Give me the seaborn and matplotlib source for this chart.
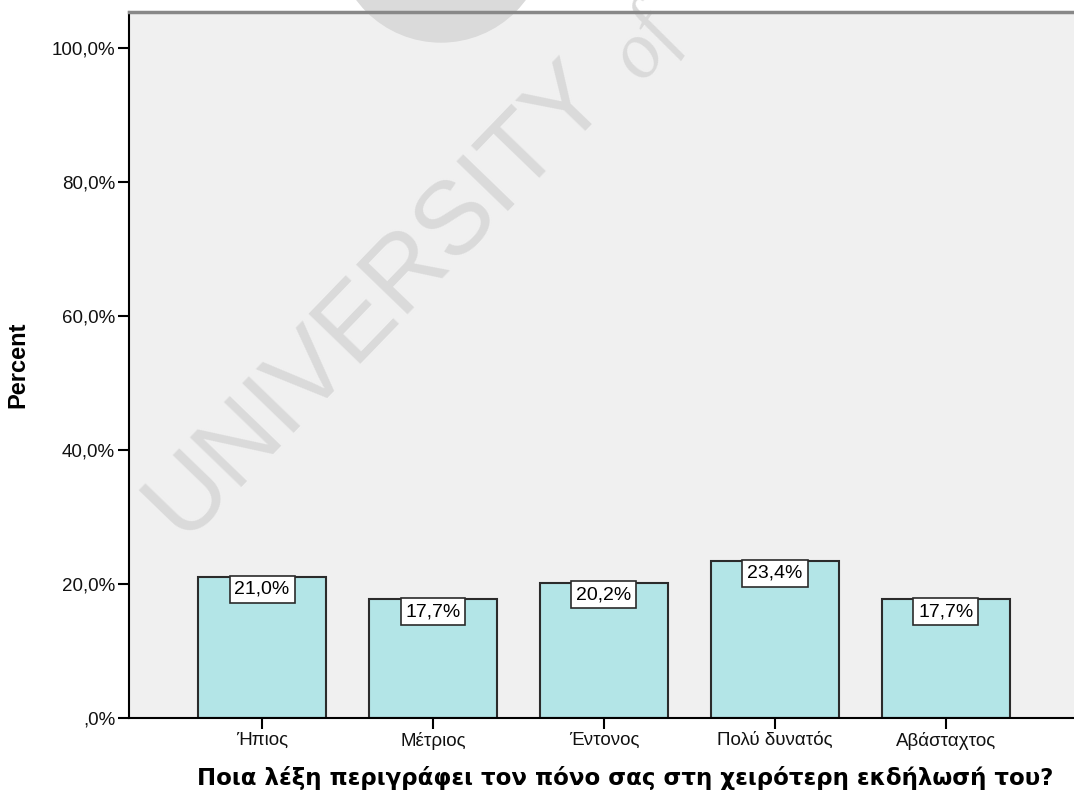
import matplotlib
matplotlib.use("Agg")
import matplotlib.pyplot as plt
import seaborn as sns
import pandas as pd
from matplotlib.patches import Circle
from matplotlib.transforms import IdentityTransform
from matplotlib.ticker import FuncFormatter

# values
categories = ['Ήπιος', 'Μέτριος', 'Έντονος', 'Πολύ δυνατός', 'Αβάσταχτος']
percent = [21.0, 17.7, 20.2, 23.4, 17.7]
y_ticks = [0, 20, 40, 60, 80, 100]

df = pd.DataFrame({'answer': categories, 'percent': percent})

sns.set_style("white")
plt.rcParams['font.family'] = ['Liberation Sans', 'DejaVu Sans']

fig = plt.figure(figsize=(10.74, 7.91), dpi=100)
ax = fig.add_axes([129 / 1074, 73 / 791, 1 - 129 / 1074, 706 / 791])
ax.set_facecolor('#F0F0F0')

sns.barplot(data=df, x='answer', y='percent', color='#B3E5E7', saturation=1,
            width=0.75, edgecolor='#2b2b2b', linewidth=1.5, ax=ax, zorder=2)

# bar value labels in white boxes at the top of each bar
for i, v in enumerate(percent):
    ax.text(i, v - 0.55, f"{v:.1f}%".replace('.', ','), ha='center', va='top',
            fontsize=14, color='black', zorder=4,
            bbox=dict(boxstyle='square,pad=0.25', fc='white', ec='#2b2b2b', lw=1.2))

# faint watermark (pixel positions, figure is saved at 100 dpi)
wm = '#DADADA'
ax.text(378, 791 - 300, 'UNIVERSITY', transform=IdentityTransform(), rotation=46,
        rotation_mode='anchor', ha='center', va='center', fontsize=74, color=wm,
        zorder=1, clip_on=False)
ax.text(645, 791 - 45, 'of', transform=IdentityTransform(), rotation=55,
        rotation_mode='anchor', family='Liberation Serif', style='italic',
        ha='center', va='center', fontsize=58, color=wm, zorder=1, clip_on=False)
ax.add_patch(Circle((441, 791 + 63), 105, transform=IdentityTransform(), color=wm,
                    zorder=1, clip_on=False))

ax.set_xlim(-0.778, 4.749)
ax.set_ylim(0, 105.3)
ax.set_yticks(y_ticks)
ax.yaxis.set_major_formatter(FuncFormatter(lambda v, p: ',0%' if v == 0 else f"{v:.1f}%".replace('.', ',')))

ax.tick_params(axis='both', direction='out', length=8, width=1.5, color='black',
               labelsize=13.5, labelcolor='#111111', left=True, bottom=True, pad=2)

ax.set_xlabel('Ποια λέξη περιγράφει τον πόνο σας στη χειρότερη εκδήλωσή του?',
              fontsize=16.5, fontweight='bold', family='DejaVu Sans', color='black')
ax.xaxis.set_label_coords(0.525, -0.068)
ax.set_ylabel('Percent', fontsize=17, fontweight='bold', color='black')
ax.yaxis.set_label_coords(-0.105, 0.5)

for s in ['left', 'bottom']:
    ax.spines[s].set_color('black')
    ax.spines[s].set_linewidth(1.5)
ax.spines['top'].set_color('#888888')
ax.spines['top'].set_linewidth(2.5)
ax.spines['right'].set_visible(False)

fig.savefig('out.png', dpi=100, facecolor='white')
